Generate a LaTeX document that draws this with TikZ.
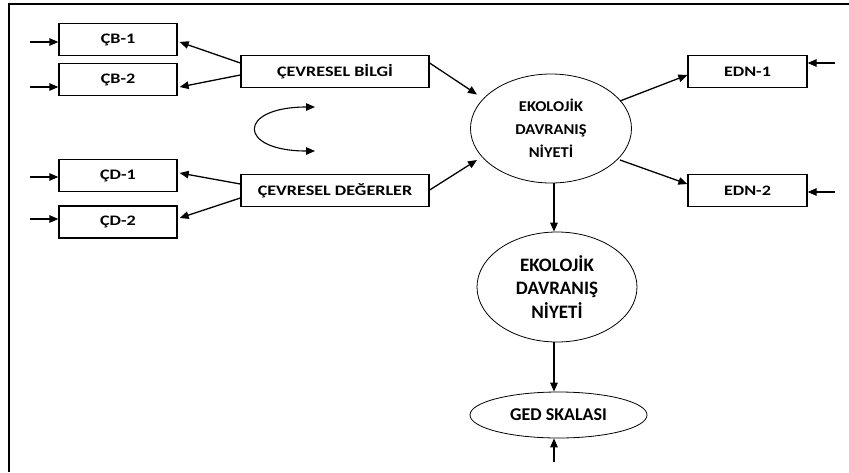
\documentclass[tikz,border=0pt]{standalone}
\usepackage{fontspec}
\setmainfont{Carlito}
\newfontfamily\widelab[FakeStretch=1.25]{Carlito}
\newfontfamily\midlab[FakeStretch=1.1]{Carlito}
\usetikzlibrary{arrows.meta,shapes.geometric,calc}

\begin{document}
\begin{tikzpicture}[x=1pt,y=-1pt,
  box/.style={draw,line width=1.3pt,minimum width=118pt,minimum height=32pt,inner sep=0pt,
    font=\widelab\bfseries\fontsize{14.5}{17}\selectfont},
  oval/.style={draw,ellipse,line width=0.8pt,inner sep=0pt,align=center},
  upper/.style={font=\midlab\bfseries\fontsize{15}{23}\selectfont},
  lower/.style={font=\bfseries\fontsize{19}{23.5}\selectfont},
  scale label/.style={font=\bfseries\fontsize{18}{22}\selectfont},
  link/.style={line width=1.3pt,-{Triangle[length=9pt,width=7.5pt]}},
]
\useasboundingbox (0,0) rectangle (849,472);
% frame
\draw[line width=2pt] (8.5,472) -- (8.5,4) -- (849,4);

% indicator boxes
\node[box] (cb1) at (118,39.5) {ÇB-1};
\node[box] (cb2) at (118,79.5) {ÇB-2};
\node[box] (cd1) at (118,175.5) {ÇD-1};
\node[box] (cd2) at (118,222) {ÇD-2};
\node[box,minimum width=188pt] (bilgi) at (335,71.5) {ÇEVRESEL BİLGİ};
\node[box,minimum width=188pt] (deger) at (335,190.5) {ÇEVRESEL DEĞERLER};
\node[box,minimum width=119pt] (edn1) at (747.5,71.5) {EDN-1};
\node[box,minimum width=119pt] (edn2) at (747.5,190.5) {EDN-2};

% latent variables
\node[oval,upper,minimum width=161pt,minimum height=109pt] (e1) at (551,128.5)
  {EKOLOJİK\\DAVRANIŞ\\NİYETİ};
\node[oval,lower,minimum width=160pt,minimum height=110pt] (e2) at (557,287)
  {EKOLOJİK\\DAVRANIŞ\\NİYETİ};
\node[oval,scale label,minimum width=177pt,minimum height=46pt] (ged) at (558.5,415)
  {GED SKALASI};

% error terms
\coordinate (in1) at (30,42);
\coordinate (in2) at (30,87);
\coordinate (in3) at (30,177);
\coordinate (in4) at (30,219);
\coordinate (in5) at (835,63);
\coordinate (in6) at (835,192);
\coordinate (in7) at (554,462);
\coordinate (spine) at (554,0);
\draw[link] (in1) -- (in1 -| cb1.west);
\draw[link] (in2) -- (in2 -| cb2.west);
\draw[link] (in3) -- (in3 -| cd1.west);
\draw[link] (in4) -- (in4 -| cd2.west);
\draw[link] (in5) -- (in5 -| edn1.east);
\draw[link] (in6) -- (in6 -| edn2.east);
\draw[link] (in7) -- (in7 |- ged.south);

% loadings
\draw[link] ($(bilgi.west)+(0,-8.5)$) -- ($(cb1.east)+(2,2.5)$);
\draw[link] ($(bilgi.west)+(0,3.5)$) -- ($(cb2.east)+(2,7.5)$);
\draw[link] ($(deger.west)+(0,-6.5)$) -- ($(cd1.east)+(2,-2.5)$);
\draw[link] ($(deger.west)+(0,7.5)$) -- ($(cd2.east)+(2,-4)$);
\draw[link] ($(bilgi.east)+(0,-8.5)$) -- ($(e1.center)+(-74,-34)$);
\draw[link] ($(deger.east)+(0,-0.5)$) -- ($(e1.center)+(-74,31.5)$);
\draw[link] ($(e1.center)+(69,-27.5)$) -- ($(edn1.west)+(0,3.5)$);
\draw[link] ($(e1.center)+(69,31.5)$) -- ($(edn2.west)+(0,-6.5)$);
\draw[link] (spine |- e1.south) -- (spine |- e2.north);
\draw[link] (spine |- e2.south) -- (spine |- ged.north);

% correlation between the two exogenous factors
\coordinate (ca) at (315,107);
\coordinate (cb) at (315,151);
\draw[line width=1.1pt,{Triangle[length=9pt,width=7.5pt]}-{Triangle[length=9pt,width=7.5pt]}]
  (ca) .. controls (237,107) and (237,151) .. (cb);
\end{tikzpicture}
\end{document}
